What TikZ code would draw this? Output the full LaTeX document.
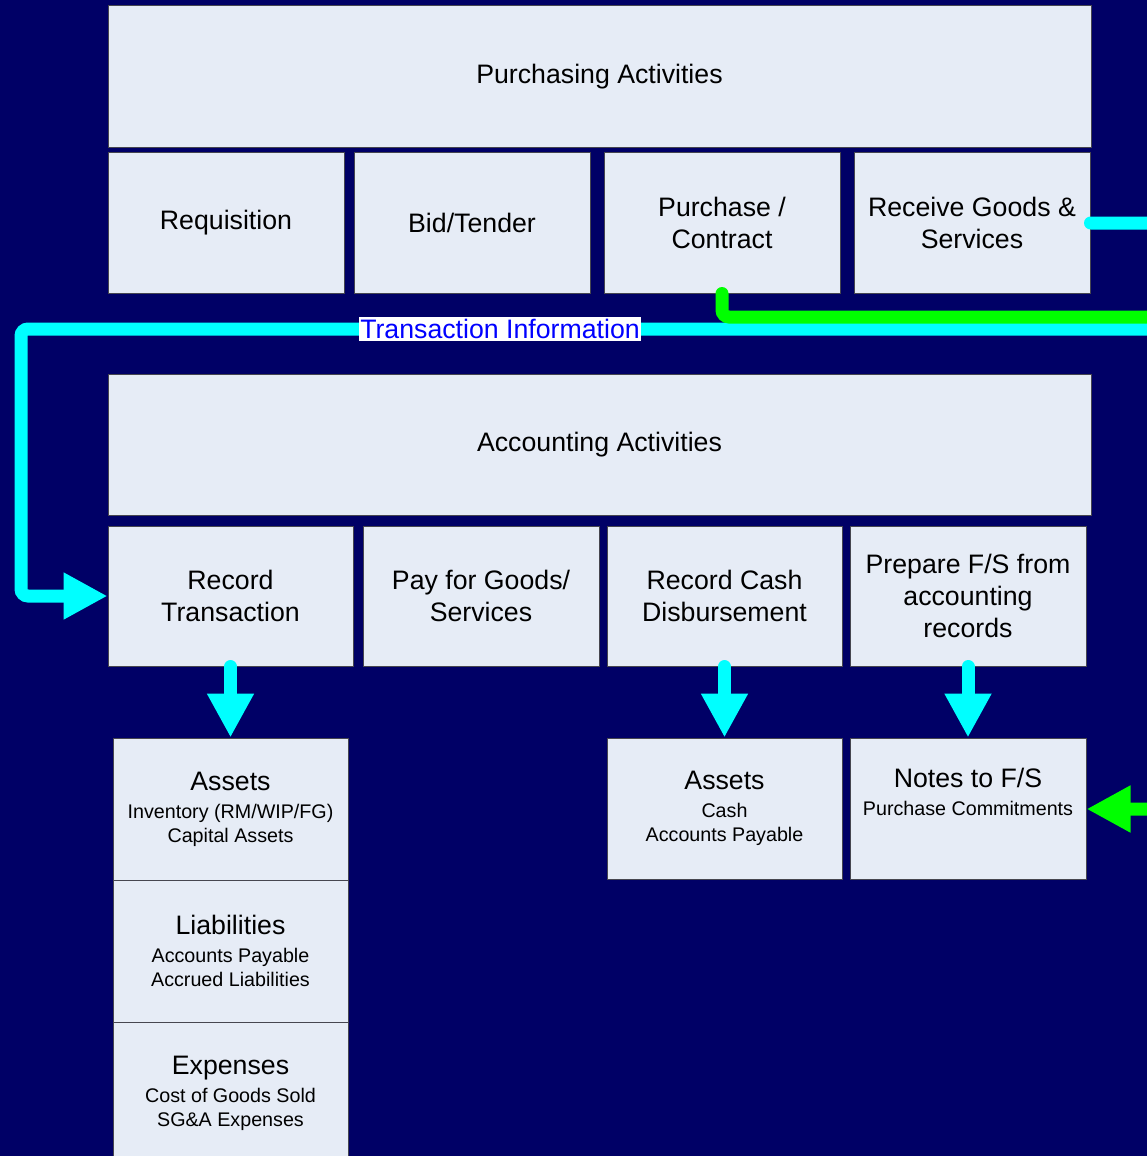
\documentclass[tikz,border=0pt]{standalone}
\usepackage{fontspec}
\setmainfont{Liberation Sans}
\usetikzlibrary{arrows.meta}
\definecolor{navy}{RGB}{0,0,102}
\definecolor{boxfill}{RGB}{230,236,246}
\definecolor{boxline}{RGB}{70,70,80}
\definecolor{cyanline}{RGB}{0,255,255}
\definecolor{greenline}{RGB}{0,255,0}
\definecolor{labelblue}{RGB}{0,0,255}
\newcommand{\bigtxt}{\fontsize{26.7}{32}\selectfont}
\newcommand{\smalltxt}{\fontsize{19.7}{24}\selectfont}
\tikzset{
  box/.style={draw=boxline, fill=boxfill, line width=1pt, inner sep=0pt, align=center, font=\bigtxt, text=black},
  flow/.style={line width=13pt, line cap=round, -{Triangle[length=44pt,width=44pt]}},
  cyanflow/.style={flow, draw=cyanline},
  greenflow/.style={flow, draw=greenline},
}
\begin{document}
\begin{tikzpicture}[x=1pt,y=-1pt]
\clip (0,0) rectangle (1147,1156);
\fill[navy] (0,0) rectangle (1147,1156);
% purchasing
\node[box, minimum width=983pt, minimum height=141pt] (purch) at (599.5,76.5) {Purchasing Activities};
\node[box, minimum width=236pt, minimum height=141pt] (req) at (226,222.5) {Requisition};
\node[box, minimum width=236pt, minimum height=141pt] (bid) at (472,222.5) {Bid/Tender};
\node[box, minimum width=236pt, minimum height=141pt] (pc) at (722,222.5) {Purchase /\\Contract};
\node[box, minimum width=236pt, minimum height=141pt] (recv) at (972,222.5) {Receive Goods \&\\Services};
% accounting
\node[box, minimum width=983pt, minimum height=141pt] (acct) at (599.5,445) {Accounting Activities};
\node[box, minimum width=245pt, minimum height=140pt] (rect) at (230.5,596) {Record\\Transaction};
\node[box, minimum width=236pt, minimum height=140pt] (pay) at (481,596) {Pay for Goods/\\Services};
\node[box, minimum width=235pt, minimum height=140pt] (recc) at (724.5,596) {Record Cash\\Disbursement};
\node[box, minimum width=236pt, minimum height=140pt] (prep) at (968,596) {Prepare F/S from\\accounting\\records};
% results
\node[box, minimum width=235pt, minimum height=142pt] (assets) at (230.5,809) {Assets\\[-4pt]{\smalltxt Inventory (RM/WIP/FG)}\\[-8pt]{\smalltxt Capital Assets}};
\node[box, minimum width=235pt, minimum height=142pt] (liab) at (230.5,951) {Liabilities\\[-4pt]{\smalltxt Accounts Payable}\\[-8pt]{\smalltxt Accrued Liabilities}};
\node[box, minimum width=235pt, minimum height=142pt] (exp) at (230.5,1093) {Expenses\\[-4pt]{\smalltxt Cost of Goods Sold}\\[-8pt]{\smalltxt SG\&A Expenses}};
\node[box, minimum width=235pt, minimum height=141pt] (assets2) at (724.5,808.5) {Assets\\[-4pt]{\smalltxt Cash}\\[-8pt]{\smalltxt Accounts Payable}};
\node[box, minimum width=236pt, minimum height=141pt] (notes) at (968,808.5) {Notes to F/S\\[-4pt]{\smalltxt Purchase Commitments}\\[-6pt]{\smalltxt\strut}};
% off-page routing points
\coordinate (g1) at (722,317);
\coordinate (g2) at (1200,317);
\coordinate (g3) at (1200,809);
\coordinate (c1) at (1200,223);
\coordinate (c2) at (1200,329);
\coordinate (c3) at (21,329);
\coordinate (c4) at (21,596);
% connectors
\draw[cyanflow, rounded corners=7pt] (recv.east |- c1) -- (c1) -- (c2) -- (c3) -- (c4) -- (rect.west);
\node[fill=white, text=labelblue, font=\fontsize{26.7}{30}\selectfont, inner xsep=1pt, inner ysep=2pt] (tlabel) at (500,329) {Transaction Information};
\draw[greenflow, rounded corners=7pt] (pc.south) -- (g1) -- (g2) -- (g3) -- (notes.east |- g3);
\draw[cyanflow] (rect.south) -- (assets.north);
\draw[cyanflow] (recc.south) -- (assets2.north);
\draw[cyanflow] (prep.south) -- (notes.north);
\end{tikzpicture}
\end{document}
